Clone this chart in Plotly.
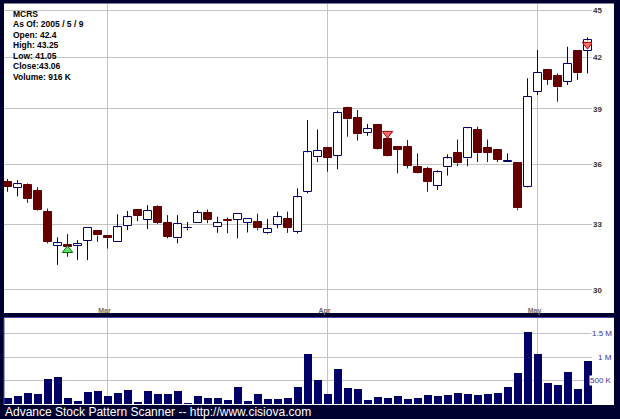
import plotly.graph_objects as go

# ---------------- data ----------------
opens = [35.09, 34.79, 34.92, 34.63, 33.57, 31.98, 32.02, 31.96, 32.20, 32.68,
         32.45, 32.14, 32.92, 33.67, 33.19, 33.84, 33.04, 32.32, 32.80, 33.04,
         33.55, 32.84, 33.20, 33.19, 33.06, 33.09, 32.56, 32.96, 33.25, 32.63,
         34.58, 36.35, 36.83, 36.43, 39.03, 38.46, 37.67, 38.09, 37.33, 36.91,
         36.88, 35.83, 35.72, 34.88, 35.83, 36.60, 36.29, 37.82, 36.83, 36.74,
         36.10, 36.03, 34.83, 39.97, 41.25, 40.87, 40.57, 42.42, 42.40]
highs = [35.23, 35.17, 35.00, 34.81, 33.75, 32.37, 32.52, 32.24, 32.85, 32.71,
         32.47, 33.47, 33.63, 33.67, 33.92, 33.90, 33.43, 33.43, 33.10, 33.67,
         33.70, 33.35, 33.32, 33.47, 33.22, 33.50, 33.25, 33.60, 33.60, 34.75,
         38.37, 37.85, 36.85, 38.89, 39.12, 38.93, 38.15, 38.09, 37.40, 36.91,
         37.27, 36.56, 35.85, 35.68, 36.51, 37.30, 37.93, 38.00, 37.30, 36.74,
         36.56, 36.03, 40.76, 42.47, 41.30, 41.05, 42.67, 42.45, 43.25]
lows = [34.58, 34.35, 34.03, 33.65, 32.09, 31.10, 31.47, 31.32, 31.32, 32.16,
        31.85, 32.14, 32.71, 33.14, 32.76, 33.00, 32.32, 32.09, 32.70, 33.04,
        33.04, 32.58, 32.56, 32.32, 32.60, 32.70, 32.52, 32.80, 32.58, 32.55,
        34.50, 36.10, 35.60, 35.73, 37.45, 37.24, 37.50, 36.74, 36.40, 35.51,
        35.77, 35.51, 34.58, 34.67, 35.40, 35.90, 35.88, 36.10, 36.10, 36.10,
        36.10, 33.67, 34.80, 39.79, 40.37, 39.40, 40.37, 40.66, 41.05]
closes = [34.84, 34.96, 34.21, 33.67, 32.15, 32.09, 31.93, 32.05, 32.82, 32.46,
          32.35, 32.84, 33.32, 33.39, 33.64, 33.04, 32.40, 32.99, 32.82, 33.55,
          33.19, 33.04, 33.17, 33.47, 33.22, 32.80, 32.75, 33.32, 32.80, 34.30,
          36.61, 36.69, 36.33, 38.75, 38.41, 37.58, 37.86, 36.77, 36.43, 36.74,
          35.90, 35.55, 35.09, 35.57, 36.29, 36.03, 37.91, 36.56, 36.60, 36.21,
          36.16, 33.76, 39.69, 41.09, 40.66, 40.23, 41.61, 41.06, 43.06]
volumes_k = [124, 180, 244, 209, 536, 585, 124, 66, 258, 273,
             173, 244, 301, 51, 273, 223, 209, 287, 20, 173,
             130, 130, 88, 358, 66, 209, 102, 102, 130, 358,
             1064, 508, 209, 743, 344, 322, 95, 145, 130, 173,
             116, 130, 194, 173, 194, 237, 209, 194, 209, 237,
             358, 658, 1541, 1064, 451, 415, 686, 322, 916]

month_ticks = [10, 32, 53]
month_labels = ["Mar", "Apr", "May"]
price_ticks = [30, 33, 36, 39, 42, 45]
vol_ticks = [500000, 1000000, 1500000]
vol_tick_labels = ["500 K", "1 M", "1.5 M"]

signal_buy_day = [6]
signal_buy_price = [31.77]
signal_sell_day = [38, 58]
signal_sell_price = [37.62, 42.80]

info_lines = ["MCRS", "As Of: 2005 / 5 / 9", "Open: 42.4", "High: 43.25",
              "Low: 41.05", "Close:43.06", "Volume: 916 K"]
footer = "Advance Stock Pattern Scanner -- http://www.cisiova.com"

# ---------------- geometry ----------------
W, H = 620, 419
ML, MR, MT, MB = 4, 28, 4, 15
PW, PH = W - ML - MR, H - MT - MB


def px(x):
    return (x - ML) / PW


def py(y):
    return (H - MB - y) / PH


NAVY = "#00002e"
UP_LINE = "#000066"
DOWN = "#660000"
GRID = "#c4c4c4"

days = list(range(len(opens)))

# ---------------- traces ----------------
fig = go.Figure()

# wicks (split so they do not cross the bodies)
wx_up, wy_up, wx_dn, wy_dn = [], [], [], []
for d, o, h, l, c in zip(days, opens, highs, lows, closes):
    top, bot = max(o, c), min(o, c)
    tx, ty = (wx_up, wy_up) if c >= o else (wx_dn, wy_dn)
    tx += [d, d, None, d, d, None]
    ty += [h, top, None, bot, l, None]

fig.add_trace(go.Scatter(x=wx_up, y=wy_up, mode="lines", xaxis="x", yaxis="y",
                         line=dict(color=UP_LINE, width=1), hoverinfo="skip",
                         showlegend=False))
fig.add_trace(go.Scatter(x=wx_dn, y=wy_dn, mode="lines", xaxis="x", yaxis="y",
                         line=dict(color=DOWN, width=1), hoverinfo="skip",
                         showlegend=False))

# bodies
bases = [min(o, c) for o, c in zip(opens, closes)]
heights = [abs(c - o) for o, c in zip(opens, closes)]
fills = ["#ffffff" if c >= o else DOWN for o, c in zip(opens, closes)]
edges = [UP_LINE if c >= o else DOWN for o, c in zip(opens, closes)]
fig.add_trace(go.Bar(x=days, y=heights, base=bases, width=0.8, xaxis="x", yaxis="y",
                     marker=dict(color=fills, line=dict(color=edges, width=1)),
                     showlegend=False, hoverinfo="skip"))

# signals
fig.add_trace(go.Scatter(x=signal_buy_day, y=signal_buy_price, mode="markers",
                         xaxis="x", yaxis="y",
                         marker=dict(symbol="triangle-up", size=9, color="#66dd77",
                                     line=dict(color="#007700", width=1)),
                         showlegend=False))
fig.add_trace(go.Scatter(x=signal_sell_day, y=signal_sell_price, mode="markers",
                         xaxis="x", yaxis="y",
                         marker=dict(symbol="triangle-down", size=9, color="#ff6b6b",
                                     line=dict(color="#990000", width=1)),
                         showlegend=False))

# volume
fig.add_trace(go.Bar(x=days, y=[v * 1000 for v in volumes_k], width=0.8,
                     xaxis="x2", yaxis="y2",
                     marker=dict(color="#000066", line=dict(width=0)),
                     showlegend=False))

# ---------------- layout ----------------
xrange_ = [-0.35, 58.45]
ylog = [1.46285, 1.6570]

shapes = [
    dict(type="rect", xref="paper", yref="paper", x0=px(4), x1=px(614),
         y0=py(313), y1=py(3.5), fillcolor="white", line=dict(width=0), layer="below"),
    dict(type="rect", xref="paper", yref="paper", x0=px(4), x1=px(614),
         y0=py(405), y1=py(318), fillcolor="white", line=dict(width=0), layer="below"),
    dict(type="line", xref="paper", yref="paper", x0=px(4), x1=px(614),
         y0=py(317.5), y1=py(317.5), line=dict(color="#4a4ab0", width=1)),
    dict(type="line", xref="paper", yref="paper", x0=px(4), x1=px(4),
         y0=py(405), y1=py(317.5), line=dict(color="#4a4ab0", width=1)),
]

annotations = []
for k, line in enumerate(info_lines):
    annotations.append(dict(text=line, xref="paper", yref="paper", x=px(10.5),
                            y=py(14 + 10.45 * k), xanchor="left", yanchor="middle",
                            showarrow=False,
                            font=dict(family="Liberation Sans, Arial", size=8.5,
                                      color="#000000", weight="bold")))
for v, t in zip(vol_ticks, vol_tick_labels):
    annotations.append(dict(text=t, xref="paper", yref="y2", x=px(613), y=v,
                            xanchor="right", yanchor="middle", showarrow=False,
                            bgcolor="white", borderpad=0,
                            font=dict(family="Liberation Sans, Arial", size=8,
                                      color="#333399")))
annotations.append(dict(text=footer, xref="paper", yref="paper", x=px(3),
                        y=py(411.5), xanchor="left", yanchor="middle", showarrow=False,
                        font=dict(family="Liberation Sans, Arial", size=12,
                                  color="#ffffff")))

fig.update_layout(
    width=W, height=H,
    margin=dict(l=ML, r=MR, t=MT, b=MB, autoexpand=False),
    paper_bgcolor=NAVY, plot_bgcolor="white",
    barmode="overlay", bargap=0, showlegend=False,
    shapes=shapes, annotations=annotations,
    xaxis=dict(domain=[0, 1], range=xrange_, anchor="y",
               tickmode="array", tickvals=month_ticks, ticktext=month_labels,
               ticklabelposition="inside", ticklabelstandoff=-5, ticklabelshift=-3,
               showgrid=True, gridcolor=GRID, gridwidth=1, zeroline=False,
               showline=False, ticks="",
               tickfont=dict(family="Liberation Sans, Arial", size=7, color="#6e6e6e",
                             weight="bold")),
    yaxis=dict(domain=[py(312.5), py(4)], type="log", range=ylog, anchor="x",
               side="right", tickmode="array", tickvals=price_ticks,
               ticktext=[str(t) for t in price_ticks],
               showgrid=True, gridcolor=GRID, gridwidth=1, zeroline=False,
               showline=False, ticks="",
               tickfont=dict(family="Liberation Sans, Arial", size=8,
                             color="#333333", weight="bold")),
    xaxis2=dict(domain=[0, 1], range=xrange_, anchor="y2", matches="x",
                tickmode="array", tickvals=month_ticks, showticklabels=False,
                showgrid=True, gridcolor=GRID, gridwidth=1, zeroline=False,
                showline=False, ticks=""),
    yaxis2=dict(domain=[py(404), py(318)], range=[0, 1840000], anchor="x2",
                side="right", tickmode="array", tickvals=vol_ticks,
                showticklabels=False, showgrid=True, gridcolor=GRID, gridwidth=1,
                zeroline=False, showline=False, ticks=""),
)

fig.write_html(
    "out.html",
    config={"displayModeBar": False},
    post_script="document.body.style.margin='0';"
                "document.body.style.overflow='hidden';"
                "document.body.style.background='" + NAVY + "';",
)
